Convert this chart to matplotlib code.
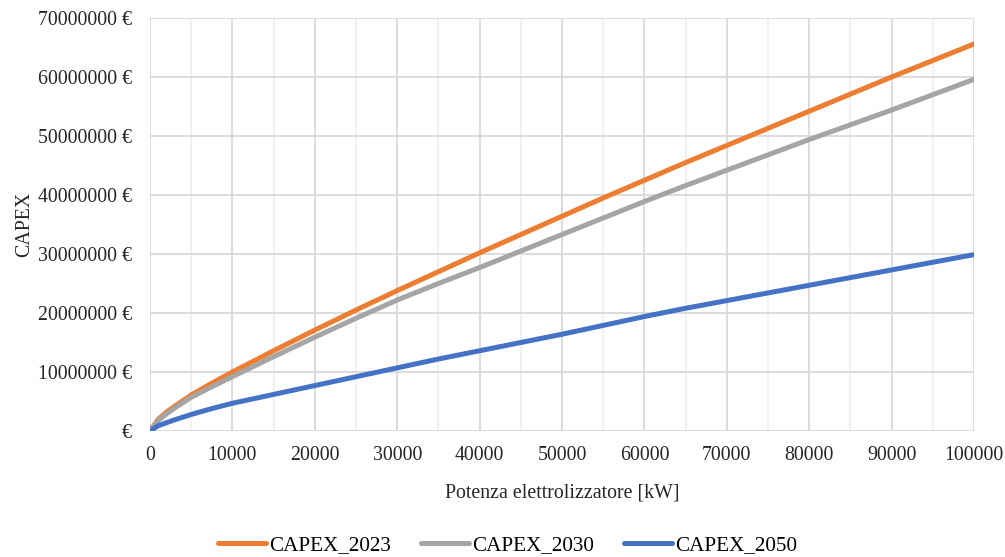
""" plot.py """
import matplotlib
matplotlib.use("Agg")
import matplotlib.pyplot as plt
from matplotlib.ticker import MultipleLocator, FuncFormatter

plt.rcParams['font.family'] = ['Liberation Serif', 'DejaVu Serif']

# potenza [kW]
potenza = [0, 1000, 2000, 3000, 5000, 7500, 10000, 15000, 20000, 25000,
           30000, 35000, 40000, 45000, 50000, 55000, 60000, 65000, 70000,
           75000, 80000, 85000, 90000, 95000, 100000]

# CAPEX [milioni di euro]
capex_2023 = [0, 2.0, 3.2, 4.2, 6.1, 8.1, 10.0, 13.6, 17.1, 20.5,
              23.8, 27.0, 30.2, 33.3, 36.4, 39.5, 42.5, 45.5, 48.4,
              51.3, 54.2, 57.1, 60.0, 62.8, 65.6]
capex_2030 = [0, 1.8, 2.9, 3.9, 5.7, 7.5, 9.2, 12.6, 15.9, 19.1,
              22.2, 25.0, 27.7, 30.5, 33.3, 36.1, 38.9, 41.6, 44.2,
              46.8, 49.4, 51.9, 54.4, 57.0, 59.6]
capex_2050 = [0, 0.9, 1.4, 1.9, 2.8, 3.8, 4.7, 6.2, 7.7, 9.2,
              10.7, 12.2, 13.6, 15.0, 16.4, 17.9, 19.4, 20.8, 22.1,
              23.4, 24.7, 26.0, 27.3, 28.6, 29.9]

serie = [("CAPEX_2023", capex_2023, "#ED7D31"),
         ("CAPEX_2030", capex_2030, "#A5A5A5"),
         ("CAPEX_2050", capex_2050, "#4472C4")]

fs = 14.3

fig, ax = plt.subplots(figsize=(10.05, 5.57), dpi=100)
fig.subplots_adjust(left=150/1005, right=974/1005, top=1-18/557, bottom=1-431/557)

for nome, valori, colore in serie:
    ax.plot(potenza, [v * 1e6 for v in valori], color=colore, lw=3.6,
            label=nome, solid_capstyle='round', zorder=3)

ax.set_xlim(0, 100000)
ax.set_ylim(0, 70000000)
ax.xaxis.set_major_locator(MultipleLocator(10000))
ax.xaxis.set_minor_locator(MultipleLocator(5000))
ax.yaxis.set_major_locator(MultipleLocator(10000000))
ax.yaxis.set_major_formatter(FuncFormatter(
    lambda v, p: "€" if v == 0 else f"{v:.0f} €"))

ax.grid(which='major', color='#D9D9D9', lw=1.3, zorder=0)
ax.grid(which='minor', axis='x', color='#EDEDED', lw=1.1, zorder=0)
for s in ax.spines.values():
    s.set_visible(False)
ax.tick_params(which='both', length=0, labelsize=fs, colors='#262626')
ax.tick_params(axis='y', pad=13)
ax.tick_params(axis='x', pad=11)

ax.set_xlabel("Potenza elettrolizzatore [kW]", fontsize=fs, color='#262626',
              labelpad=13)
ax.set_ylabel("CAPEX", fontsize=fs, color='#262626', labelpad=3)

fig.legend(loc='center', bbox_to_anchor=(0.505, 1 - 545/557), ncol=3,
           frameon=False, fontsize=15.2, handlelength=2.3,
           handletextpad=0.15, columnspacing=1.4, borderpad=0)

plt.savefig("out.png")
